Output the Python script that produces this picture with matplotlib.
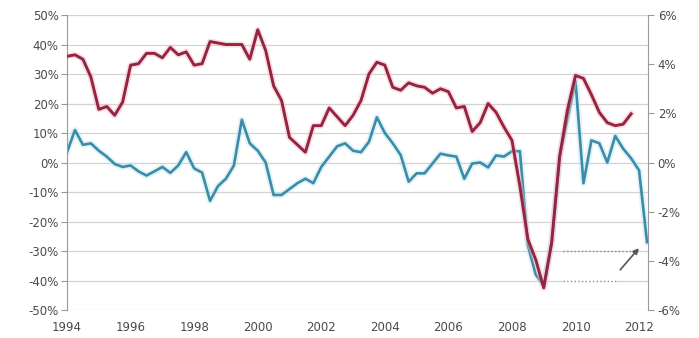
import numpy as np
import matplotlib
matplotlib.use("Agg")
import matplotlib.pyplot as plt
from matplotlib.patches import Rectangle

# Quarterly series, starting Q1 1994
START_YEAR = 1994.0

# left axis, % (red)
red_vals = [
    36, 36.5, 35, 29,
    18, 19, 16, 20.5,
    33, 33.5, 37, 37,
    35.5, 39, 36.5, 37.5,
    33, 33.5, 41, 40.5,
    40, 40, 40, 35,
    45, 38, 26, 21,
    8.5, 6, 3.5, 12.5,
    12.5, 18.5, 15.5, 12.5,
    16, 21, 30, 34,
    33, 25.5, 24.5, 27,
    26, 25.5, 23.5, 25,
    24, 18.5, 19, 10.5,
    13.5, 20, 17, 12,
    7.5, -8, -26, -33,
    -42.5, -27, 2, 18,
    29.5, 28.5, 23, 17,
    13.5, 12.5, 13, 16.5,
]

# right axis, % (blue)
blue_vals = [
    0.42, 1.32, 0.72, 0.78,
    0.48, 0.24, -0.06, -0.18,
    -0.12, -0.36, -0.53, -0.36,
    -0.18, -0.42, -0.12, 0.42,
    -0.24, -0.41, -1.56, -0.96,
    -0.66, -0.12, 1.74, 0.78,
    0.48, 0.0, -1.32, -1.32,
    -1.08, -0.84, -0.66, -0.84,
    -0.18, 0.24, 0.66, 0.78,
    0.48, 0.42, 0.84, 1.84,
    1.2, 0.78, 0.3, -0.78,
    -0.44, -0.44, -0.04, 0.36,
    0.29, 0.24, -0.66, -0.04,
    0.0, -0.2, 0.29, 0.24,
    0.46, 0.46, -3.36, -4.56,
    -5.0, -3.3, 0.24, 1.8,
    3.3, -0.84, 0.9, 0.78,
    0.0, 1.08, 0.56, 0.17,
    -0.32, -3.24,
]

left_ticks = [50, 40, 30, 20, 10, 0, -10, -20, -30, -40, -50]
right_ticks = [6, 4, 2, 0, -2, -4, -6]
year_ticks = list(range(1994, 2013, 2))

RED = "#952440"
BLUE = "#3a8ca8"
GRID = "#d2d2d2"
AXIS = "#9a9a9a"
TEXT = "#4a4a4a"

red_x = START_YEAR + np.arange(len(red_vals)) / 4.0
blue_x = START_YEAR + np.arange(len(blue_vals)) / 4.0

fig = plt.figure(figsize=(6.99, 3.38), dpi=100)
ax = fig.add_axes([0.0959, 0.0828, 0.8311, 0.8728])
ax2 = ax.twinx()
# red series sits on top of the blue one
ax.set_zorder(ax2.get_zorder() + 1)
ax.patch.set_visible(False)

ax.set_xlim(1994, 2012.28)
ax.set_ylim(-50, 50)
ax2.set_ylim(-6, 6)

for t in left_ticks:
    ax2.axhline(t * 6 / 50, color=GRID, lw=0.9, zorder=0)

# white box with dotted guides near the last point
ax2.add_patch(Rectangle((2009.6, -5.94), 1.7, 2.3, facecolor="white",
                        edgecolor="none", zorder=1))
ax2.plot([2009.6, 2012.0], [-3.6, -3.6], ls=":", color="#888888", lw=1.0, zorder=1)
ax2.plot([2009.6, 2011.3], [-4.8, -4.8], ls=":", color="#888888", lw=1.0, zorder=1)

ax.plot(red_x, red_vals, color="#f2b8c4", lw=4.5, alpha=0.45, zorder=2,
        solid_joinstyle="round")
ax.plot(red_x, red_vals, color=RED, lw=2.1, zorder=3)
ax2.plot(blue_x, blue_vals, color="#bfe3ee", lw=4.5, alpha=0.45, zorder=2,
         solid_joinstyle="round")
ax2.plot(blue_x, blue_vals, color=BLUE, lw=1.9, zorder=3)

ax2.annotate("", xy=(2012.05, -3.4), xytext=(2011.35, -4.45),
             arrowprops=dict(arrowstyle="-|>", color="#555555", lw=1.2,
                             mutation_scale=8))

ax.set_yticks(left_ticks)
ax.set_yticklabels([f"{t}%" for t in left_ticks])
ax2.set_yticks(right_ticks)
ax2.set_yticklabels([f"{t}%" for t in right_ticks])
ax.set_xticks(year_ticks)
ax.set_xticklabels([str(y) for y in year_ticks])

for a in (ax, ax2):
    for side in ("top", "bottom"):
        a.spines[side].set_visible(False)
    a.spines["left"].set_color(AXIS)
    a.spines["right"].set_color(AXIS)
ax.spines["right"].set_visible(False)
ax2.spines["left"].set_visible(False)

ax.tick_params(axis="y", length=4, color=AXIS, labelsize=8.5,
               labelcolor=TEXT, pad=2)
ax2.tick_params(axis="y", length=4, color=AXIS, labelsize=8.5,
                labelcolor=TEXT, pad=3)
ax.tick_params(axis="x", length=0, labelsize=8.5, labelcolor=TEXT, pad=8)

fig.savefig("out.png", dpi=100, facecolor="white")
